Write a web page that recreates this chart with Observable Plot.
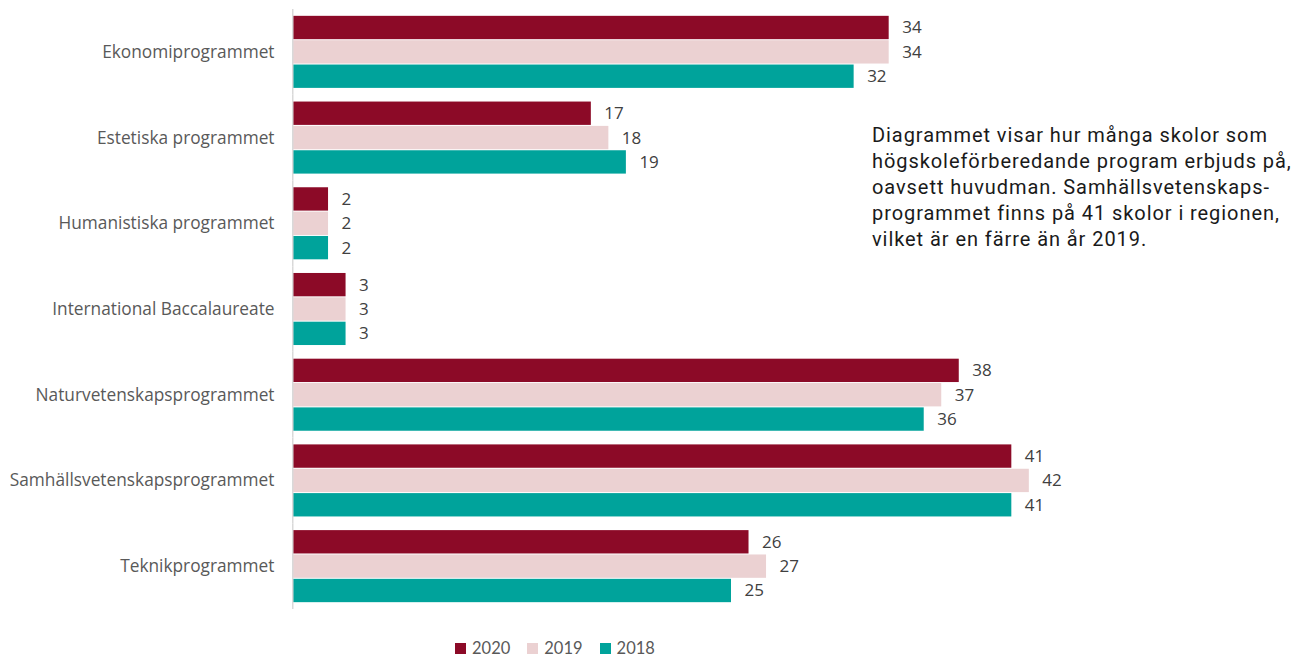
<!DOCTYPE html>
<html>
<head>
<meta charset="utf-8">
<script src="https://cdn.jsdelivr.net/npm/d3@7"></script>
<script src="https://cdn.jsdelivr.net/npm/@observablehq/plot@0.6"></script>
<style>
  body { margin: 0; background: #fff; }
  #wrap { position: relative; width: 1294px; height: 658px; }
  #note { position: absolute; left: 872px; top: 122px; font-family: Roboto, sans-serif; font-size: 20px; letter-spacing: 0.93px; line-height: 26px; color: #1a1a1a; white-space: nowrap; }
  #legend { position: absolute; left: 455px; top: 638px; display: flex; align-items: center; font-family: Lato, sans-serif; font-size: 16.5px; line-height: normal; color: #595959; }
  #legend .sw { width: 11px; height: 11px; display: inline-block; margin-right: 6px; }
  #legend .it { display: flex; align-items: center; margin-right: 17px; }
</style>
</head>
<body>
<div id="wrap">
  <div id="chart"></div>
  <div id="note">Diagrammet visar hur många skolor som<br>högskoleförberedande program erbjuds på,<br>oavsett huvudman. Samhällsvetenskaps-<br>programmet finns på 41 skolor i regionen,<br>vilket är en färre än år 2019.</div>
  <div id="legend"></div>
</div>
<script>
const categories = ["Ekonomiprogrammet", "Estetiska programmet", "Humanistiska programmet", "International Baccalaureate", "Naturvetenskapsprogrammet", "Samhällsvetenskapsprogrammet", "Teknikprogrammet"];
const years = ["2020", "2019", "2018"];
const v2020 = [34, 17, 2, 3, 38, 41, 26];
const v2019 = [34, 18, 2, 3, 37, 42, 27];
const v2018 = [32, 19, 2, 3, 36, 41, 25];
const colors = ["#8c0a27", "#ebd1d2", "#00a39b"];

const series = {"2020": v2020, "2019": v2019, "2018": v2018};
const data = categories.flatMap((c, i) => years.map(y => ({c, year: y, v: series[y][i]})));

const chart = Plot.plot({
  width: 1294,
  height: 620,
  marginLeft: 293,
  marginRight: 125,
  marginTop: 9,
  marginBottom: 11,
  style: {fontFamily: "'Open Sans', sans-serif", fontSize: "17px", color: "#595959", background: "transparent"},
  x: {domain: [0, 50], axis: null},
  y: {domain: years, axis: null, paddingInner: 0, paddingOuter: 0.26, round: false},
  fy: {domain: categories, padding: 0, paddingInner: 0, paddingOuter: 0, round: false, label: null, axis: null},
  color: {domain: years, range: colors},
  marks: [
    Plot.axisFy({anchor: "left", tickSize: 0, tickPadding: 19, fontSize: 17.3, label: null, fill: "#595959"}),
    Plot.barX(data, {fy: "c", y: "year", x: "v", fill: "year", insetTop: 0.5, insetBottom: 0.5}),
    Plot.text(data, {fy: "c", y: "year", x: "v", text: d => String(d.v), textAnchor: "start", dx: 13, fontSize: 17, fill: "#404040"}),
    Plot.ruleX([0], {stroke: "#d9d9d9", strokeWidth: 1.5, dx: -0.75})
  ]
});
document.getElementById("chart").appendChild(chart);

const legend = document.getElementById("legend");
years.forEach((y, i) => {
  const it = document.createElement("div");
  it.className = "it";
  const sw = document.createElement("span");
  sw.className = "sw";
  sw.style.background = colors[i];
  it.appendChild(sw);
  it.appendChild(document.createTextNode(y));
  legend.appendChild(it);
});
</script>
</body>
</html>
